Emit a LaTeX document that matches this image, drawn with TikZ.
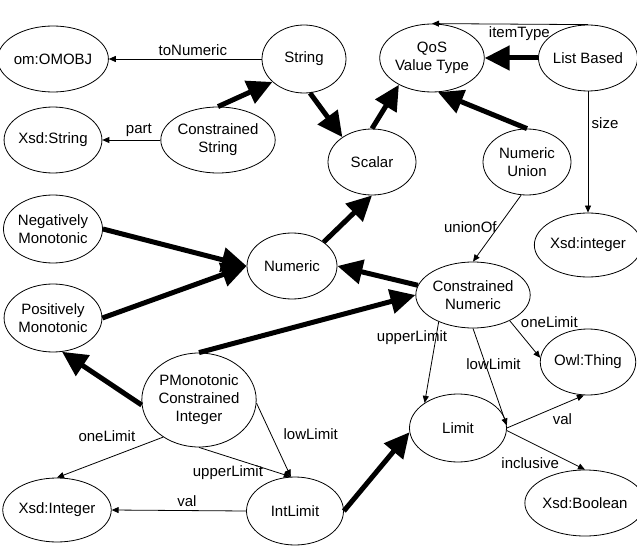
\documentclass[tikz,border=0pt]{standalone}
\usepackage{fontspec}
\setmainfont{Liberation Sans}
\usetikzlibrary{shapes.geometric,arrows.meta}
\begin{document}
\begin{tikzpicture}[x=1pt,y=-1pt,
		cls/.style={draw,ellipse,line width=0.8pt,inner sep=0pt,minimum width=90pt,minimum height=66pt,align=center,font=\fontsize{15}{18}\selectfont},
		prop/.style={-{Triangle[length=7pt,width=6pt]},line width=0.8pt},
		isa/.style={-{Triangle[length=25pt,width=24pt]},line width=5pt},
		lbl/.style={font=\fontsize{15}{18}\selectfont}]
			\useasboundingbox (0,0) rectangle (637,548);
			% classes
			\node[cls] (om) at (53,59) {om:OMOBJ};
			\node[cls,minimum width=84pt,minimum height=68pt] (str) at (304,59) {String};
			\node[cls] (xstr) at (53,140) {Xsd:String};
			\node[cls,minimum width=94pt] (cstr) at (218,140) {Constrained\\String};
			\node[cls,minimum width=88pt,minimum height=68pt] (qos) at (432,58) {QoS\\Value Type};
			\node[cls] (list) at (588,58) {List Based};
			\node[cls,minimum width=88pt] (scalar) at (372,162) {Scalar};
			\node[cls,minimum width=88pt] (nunion) at (527,162) {Numeric\\Union};
			\node[cls,minimum width=92pt,minimum height=64pt] (xint) at (588,245) {Xsd:integer};
			\node[cls,minimum width=88pt,minimum height=68pt] (neg) at (53,229) {Negatively\\Monotonic};
			\node[cls] (num) at (292,266) {Numeric};
			\node[cls,minimum width=88pt,minimum height=68pt] (pos) at (53,318) {Positively\\Monotonic};
			\node[cls,minimum width=97pt] (cnum) at (473,295) {Constrained\\Numeric};
			\node[cls] (owl) at (588,362) {Owl:Thing};
			\node[cls,minimum width=96pt,minimum height=94pt] (pmono) at (199,400) {PMonotonic\\Constrained\\Integer};
			\node[cls,minimum width=97pt,minimum height=68pt] (limit) at (458,428) {Limit};
			\node[cls,minimum width=97pt,minimum height=64pt] (xinteger) at (57,510) {Xsd:Integer};
			\node[cls,minimum width=97pt,minimum height=68pt] (intlim) at (295,511) {IntLimit};
			\node[cls,minimum width=100pt,minimum height=66pt] (xbool) at (585,503) {Xsd:Boolean};
			% subclass links
			\draw[isa] (cstr.north) -- (str.216);
			\draw[isa] (str.280) -- (scalar.140);
			\draw[isa] (scalar.north) -- (qos.219);
			\draw[isa] (list.west) -- (qos.east);
			\draw[isa] (nunion.north) -- (qos.280);
			\draw[isa] (num.37) -- (scalar.south);
			\draw[isa] (neg.east) -- (num.west);
			\draw[isa] (pos.east) -- (num.west);
			\draw[isa] (cnum.170) -- (num.east);
			\draw[isa] (pmono.north) -- (cnum.west);
			\draw[isa] (pmono.185) -- (pos.285);
			\draw[isa] (intlim.east) -- (limit.185);
			% properties
			\draw[prop] (str.west) -- node[lbl,pos=0.45,above] (l-tonum) {toNumeric} (om.east);
			\draw[prop] (cstr.west) -- node[lbl,pos=0.37,above] (l-part) {part} (xstr.east);
			\draw[prop] (list.north) -- node[lbl,pos=0.44,below=-1pt] (l-item) {itemType} (qos.north);
			\draw[prop] (list.south) -- node[lbl,pos=0.26,right] (l-size) {size} (xint.north);
			\draw[prop] (nunion.260) -- node[lbl,pos=0.48,anchor=east,inner sep=1pt] (l-union) {unionOf} (cnum.north);
			\draw[prop] (cnum.-35) -- node[lbl,pos=0.05,anchor=south west,xshift=6pt,yshift=-9pt] (l-onelim) {oneLimit} (owl.175);
			\draw[prop] (cnum.218) -- node[lbl,pos=0.19,xshift=-24pt] (l-uplim) {upperLimit} (limit.143);
			\draw[prop] (cnum.south) -- node[lbl,pos=0.37,xshift=8pt] (l-lowlim) {lowLimit} (limit.3);
			\draw[prop] (limit.east) -- node[lbl,pos=0.72,yshift=-15pt] (l-val) {val} (owl.263);
			\draw[prop] (limit.-3) -- node[lbl,pos=0.3,yshift=-21pt] (l-incl) {inclusive} (xbool.north);
			\draw[prop] (pmono.-3) -- node[lbl,pos=0.42,right=9pt] (l-plow) {lowLimit} (intlim.97);
			\draw[prop] (pmono.south) -- node[lbl,pos=0.315,yshift=-16pt] (l-pup) {upperLimit} (intlim.97);
			\draw[prop] (pmono.226) -- node[lbl,pos=0.53,yshift=22pt] (l-pone) {oneLimit} (xinteger.north);
			\draw[prop] (intlim.west) -- node[lbl,pos=0.44,above] (l-ival) {val} (xinteger.east);
		\end{tikzpicture}
\end{document}
